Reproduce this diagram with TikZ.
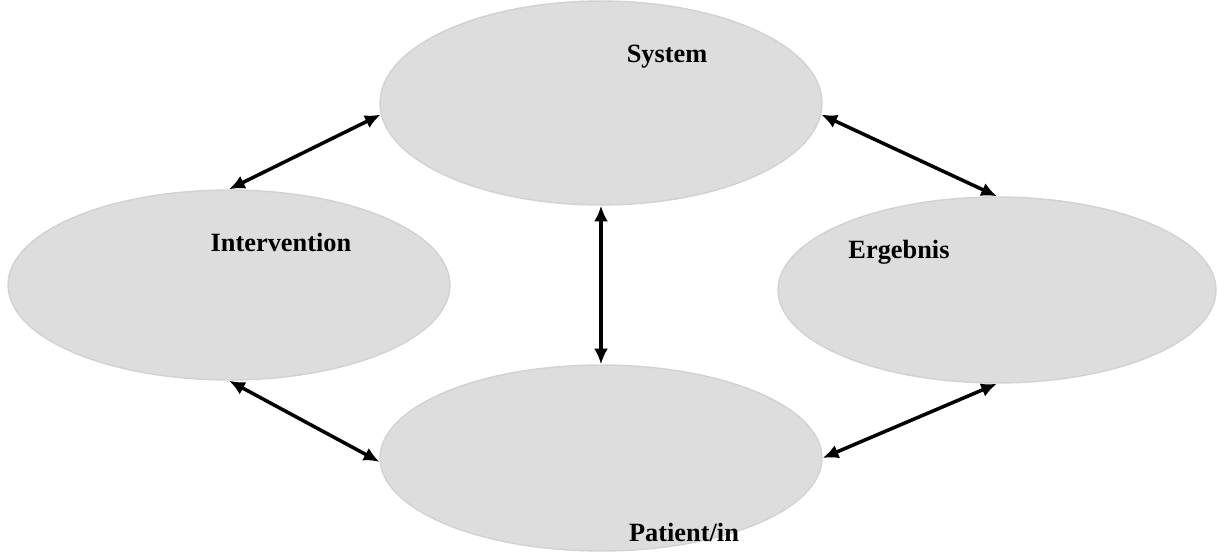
\documentclass[tikz,border=0pt]{standalone}
\usepackage{fontspec}
\setmainfont{Liberation Serif}
\usetikzlibrary{arrows.meta,shapes.geometric}
\definecolor{PdmFill}{RGB}{221,221,221}
\definecolor{PdmEdge}{RGB}{210,210,210}
\tikzset{
  pdm/oval/.style={
    ellipse,
    draw=PdmEdge,
    line width=0.8pt,
    fill=PdmFill,
    inner sep=0pt
  },
  pdm/arrow/.style={{Latex[length=9pt,width=8pt]}-{Latex[length=9pt,width=8pt]}, line width=2pt, draw=black},
  pdm/label/.style={font=\fontsize{15}{18}\selectfont\bfseries, text=black}
}
\begin{document}
\begin{tikzpicture}[x=0.02cm,y=-0.02cm]
  \useasboundingbox (0,0) rectangle (1219,551);
  \node[pdm/oval,minimum width=8.84cm,minimum height=4.08cm] (sys) at (601,103) {};
  \node[pdm/oval,minimum width=8.84cm,minimum height=3.8cm] (int) at (229,285) {};
  \node[pdm/oval,minimum width=8.76cm,minimum height=3.72cm] (erg) at (997,290) {};
  \node[pdm/oval,minimum width=8.84cm,minimum height=3.72cm] (pat) at (601,458) {};
  \node[pdm/label] (syslbl) at (667,57) {System};
  \node[pdm/label] (intlbl) at (281,242) {Intervention};
  \node[pdm/label] (erglbl) at (899,252) {Ergebnis};
  \node[pdm/label] (patlbl) at (684,532) {Patient/in};
  \draw[pdm/arrow] (sys.183) -- (int.north);
  \draw[pdm/arrow] (sys.357) -- (erg.north);
  \draw[pdm/arrow] (sys.south) -- (pat.north);
  \draw[pdm/arrow] (int.south) -- (pat.181);
  \draw[pdm/arrow] (erg.south) -- (pat.east);
\end{tikzpicture}
\end{document}
